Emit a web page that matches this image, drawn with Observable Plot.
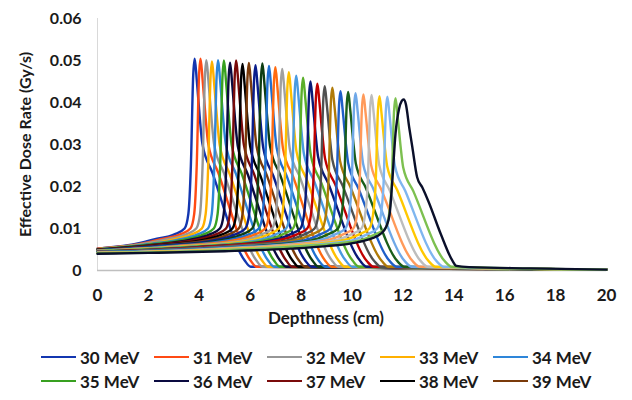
<!DOCTYPE html>
<html><head><meta charset="utf-8">
<script src="https://cdn.jsdelivr.net/npm/d3@7"></script>
<script src="https://cdn.jsdelivr.net/npm/@observablehq/plot@0.6"></script>
<style>
body{margin:0;background:#fff;font-family:Lato,"Open Sans",sans-serif;}
#wrap{width:632px;height:400px;position:relative;overflow:hidden;background:#fff;}
#chart{position:absolute;left:0;top:0;}
#xtitle{position:absolute;left:224px;width:204px;top:307px;line-height:22px;text-align:center;font-size:17px;font-weight:bold;color:#1a1a1a;}
#legend{position:absolute;left:41px;top:345px;width:580px;display:flex;flex-wrap:wrap;}
.item{width:113px;height:24px;display:flex;align-items:center;font-size:17px;font-weight:bold;color:#1a1a1a;}
.swatch{display:inline-block;width:35px;height:2.6px;margin-right:4px;}
</style></head><body>
<div id="wrap"><div id="chart"></div><div id="xtitle">Depthness (cm)</div><div id="legend"></div></div>
<script>
const energies = [30,31,32,33,34,35,36,37,38,39,40,41,42,43,44,45,46,47,48,49,50,51,52,53,54,55,56,57,58,59,60];
const colors = ["#1336B0","#FF4A14","#969696","#FFB000","#2E86D9","#38A020","#0A0A40","#7A0A0A","#000000","#7A3A0A",
  "#0A1E8C","#0E3D12","#1F6FD0","#FF6A10","#A0A0A0","#FFC000","#4A9BE0","#5AAE2A","#0A1A78","#C00000",
  "#505050","#B07A08","#1F5FC8","#1A5E1A","#6FA8E8","#FF9A5A","#BDBDBD","#FFC800","#7FB6F0","#7DC050","#0A0F2A"];
const legendLabels = ["30 MeV","31 MeV","32 MeV","33 MeV","34 MeV","35 MeV","36 MeV","37 MeV","38 MeV","39 MeV"];
const xTicks = [0,2,4,6,8,10,12,14,16,18,20];
const yTicks = [0,0.01,0.02,0.03,0.04,0.05,0.06];

// [depth (cm), effective dose rate (Gy/s)]
const mev30 = [[0,.0052],[1.72,.0066],[2.22,.0074],[3.02,.0086],[3.42,.0100],[3.57,.0135],[3.67,.0252],[3.76,.0464],[3.82,.0504],[3.90,.0454],[4.02,.0363],[4.12,.0302],[4.52,.0232],[5.77,.0025],[6.02,.0009],[20,.0002]];
const mev31 = [[0,.0052],[1.82,.0065],[2.45,.0074],[3.25,.0086],[3.65,.0100],[3.80,.0135],[3.90,.0252],[3.99,.0464],[4.05,.0504],[4.13,.0454],[4.25,.0363],[4.35,.0302],[4.75,.0232],[6.00,.0025],[6.25,.0009],[20,.0002]];
const mev32 = [[0,.0051],[1.93,.0065],[2.68,.0074],[3.48,.0086],[3.88,.0100],[4.03,.0135],[4.13,.0251],[4.22,.0461],[4.28,.0501],[4.36,.0451],[4.48,.0361],[4.58,.0301],[4.98,.0230],[6.23,.0025],[6.48,.0009],[20,.0002]];
const mev33 = [[0,.0051],[2.03,.0064],[2.90,.0073],[3.70,.0086],[4.10,.0100],[4.25,.0135],[4.35,.0249],[4.44,.0458],[4.50,.0498],[4.58,.0448],[4.70,.0359],[4.80,.0299],[5.20,.0229],[6.45,.0025],[6.70,.0009],[20,.0002]];
const mev34 = [[0,.0050],[2.13,.0064],[3.14,.0073],[3.94,.0086],[4.34,.0100],[4.49,.0135],[4.59,.0251],[4.68,.0461],[4.74,.0501],[4.82,.0451],[4.94,.0361],[5.04,.0301],[5.44,.0230],[6.69,.0025],[6.94,.0009],[20,.0002]];
const mev35 = [[0,.0050],[2.24,.0063],[3.37,.0073],[4.17,.0086],[4.57,.0100],[4.72,.0135],[4.82,.0250],[4.91,.0460],[4.97,.0500],[5.05,.0450],[5.17,.0360],[5.27,.0300],[5.67,.0230],[6.92,.0025],[7.17,.0009],[20,.0002]];
const mev36 = [[0,.0050],[2.34,.0062],[3.61,.0073],[4.41,.0086],[4.81,.0100],[4.96,.0135],[5.06,.0248],[5.15,.0455],[5.21,.0495],[5.29,.0446],[5.41,.0356],[5.51,.0297],[5.91,.0228],[7.16,.0025],[7.41,.0009],[20,.0002]];
const mev37 = [[0,.0049],[2.45,.0062],[3.85,.0073],[4.65,.0086],[5.05,.0100],[5.20,.0135],[5.30,.0250],[5.39,.0460],[5.45,.0500],[5.53,.0450],[5.65,.0360],[5.75,.0300],[6.15,.0230],[7.40,.0025],[7.65,.0009],[20,.0002]];
const mev38 = [[0,.0049],[2.57,.0061],[4.10,.0072],[4.90,.0086],[5.30,.0100],[5.45,.0135],[5.55,.0246],[5.64,.0453],[5.70,.0492],[5.78,.0443],[5.90,.0354],[6.00,.0295],[6.40,.0226],[7.65,.0025],[7.90,.0009],[20,.0002]];
const mev39 = [[0,.0049],[2.68,.0061],[4.35,.0072],[5.15,.0086],[5.55,.0100],[5.70,.0135],[5.80,.0247],[5.89,.0454],[5.95,.0494],[6.03,.0445],[6.15,.0356],[6.25,.0296],[6.65,.0227],[7.90,.0025],[8.15,.0009],[20,.0002]];
const mev40 = [[0,.0048],[2.79,.0060],[4.61,.0072],[5.41,.0086],[5.81,.0100],[5.96,.0135],[6.06,.0245],[6.15,.0450],[6.21,.0489],[6.29,.0440],[6.41,.0352],[6.51,.0293],[6.91,.0225],[8.16,.0024],[8.41,.0009],[20,.0002]];
const mev41 = [[0,.0048],[2.92,.0059],[4.88,.0072],[5.68,.0086],[6.08,.0100],[6.23,.0135],[6.33,.0247],[6.42,.0454],[6.48,.0493],[6.56,.0444],[6.68,.0355],[6.78,.0296],[7.18,.0227],[8.43,.0025],[8.68,.0009],[20,.0002]];
const mev42 = [[0,.0048],[3.03,.0059],[5.14,.0072],[5.94,.0086],[6.34,.0100],[6.49,.0135],[6.59,.0244],[6.68,.0448],[6.74,.0487],[6.82,.0438],[6.94,.0351],[7.04,.0292],[7.44,.0224],[8.69,.0024],[8.94,.0009],[20,.0002]];
const mev43 = [[0,.0047],[3.15,.0058],[5.39,.0072],[6.19,.0086],[6.59,.0100],[6.74,.0135],[6.84,.0242],[6.93,.0445],[6.99,.0484],[7.07,.0436],[7.19,.0348],[7.29,.0290],[7.69,.0223],[8.94,.0024],[9.19,.0009],[20,.0002]];
const mev44 = [[0,.0047],[3.27,.0058],[5.66,.0071],[6.46,.0086],[6.86,.0100],[7.01,.0135],[7.11,.0240],[7.20,.0442],[7.26,.0480],[7.34,.0432],[7.46,.0346],[7.56,.0288],[7.96,.0221],[9.21,.0024],[9.46,.0009],[20,.0002]];
const mev45 = [[0,.0046],[3.38,.0057],[5.92,.0071],[6.72,.0086],[7.12,.0100],[7.27,.0135],[7.37,.0236],[7.46,.0434],[7.52,.0472],[7.60,.0425],[7.72,.0340],[7.82,.0283],[8.22,.0217],[9.47,.0024],[9.72,.0009],[20,.0002]];
const mev46 = [[0,.0046],[3.51,.0056],[6.21,.0071],[7.01,.0086],[7.41,.0100],[7.56,.0135],[7.66,.0232],[7.75,.0427],[7.81,.0464],[7.89,.0418],[8.01,.0334],[8.11,.0278],[8.51,.0213],[9.76,.0023],[10.01,.0009],[20,.0002]];
const mev47 = [[0,.0046],[3.64,.0056],[6.48,.0071],[7.28,.0086],[7.68,.0100],[7.83,.0135],[7.93,.0230],[8.02,.0422],[8.08,.0459],[8.16,.0413],[8.28,.0330],[8.38,.0275],[8.78,.0211],[10.03,.0023],[10.28,.0009],[20,.0002]];
const mev48 = [[0,.0045],[3.77,.0055],[6.77,.0071],[7.57,.0086],[7.97,.0100],[8.12,.0135],[8.22,.0225],[8.31,.0414],[8.37,.0450],[8.45,.0405],[8.57,.0324],[8.67,.0270],[9.07,.0207],[10.32,.0023],[10.57,.0009],[20,.0002]];
const mev49 = [[0,.0045],[3.89,.0055],[7.04,.0071],[7.84,.0086],[8.24,.0100],[8.39,.0135],[8.49,.0223],[8.58,.0409],[8.64,.0445],[8.72,.0401],[8.84,.0320],[8.94,.0267],[9.34,.0205],[10.59,.0022],[10.84,.0009],[20,.0002]];
const mev50 = [[0,.0044],[4.02,.0054],[7.33,.0070],[8.13,.0086],[8.53,.0100],[8.68,.0135],[8.78,.0220],[8.87,.0404],[8.93,.0439],[9.01,.0395],[9.13,.0316],[9.23,.0263],[9.63,.0202],[10.88,.0022],[11.13,.0009],[20,.0002]];
const mev51 = [[0,.0044],[4.15,.0053],[7.63,.0070],[8.43,.0086],[8.83,.0100],[8.98,.0135],[9.08,.0218],[9.17,.0400],[9.23,.0435],[9.31,.0392],[9.43,.0313],[9.53,.0261],[9.93,.0200],[11.18,.0022],[11.43,.0009],[20,.0002]];
const mev52 = [[0,.0044],[4.30,.0053],[7.95,.0070],[8.75,.0086],[9.15,.0100],[9.30,.0135],[9.40,.0214],[9.49,.0393],[9.55,.0427],[9.63,.0384],[9.75,.0307],[9.85,.0256],[10.25,.0196],[11.50,.0021],[11.75,.0009],[20,.0002]];
const mev53 = [[0,.0043],[4.43,.0052],[8.25,.0070],[9.05,.0086],[9.45,.0100],[9.60,.0135],[9.70,.0213],[9.79,.0391],[9.85,.0425],[9.93,.0383],[10.05,.0306],[10.15,.0255],[10.55,.0196],[11.80,.0021],[12.05,.0009],[20,.0002]];
const mev54 = [[0,.0043],[4.56,.0052],[8.54,.0070],[9.34,.0086],[9.74,.0100],[9.89,.0135],[9.99,.0211],[10.08,.0388],[10.14,.0422],[10.22,.0380],[10.34,.0304],[10.44,.0253],[10.84,.0194],[12.09,.0021],[12.34,.0009],[20,.0002]];
const mev55 = [[0,.0042],[4.70,.0051],[8.85,.0070],[9.65,.0086],[10.05,.0100],[10.20,.0135],[10.30,.0210],[10.39,.0385],[10.45,.0419],[10.53,.0377],[10.65,.0302],[10.75,.0251],[11.15,.0193],[12.40,.0021],[12.65,.0009],[20,.0002]];
const mev56 = [[0,.0042],[4.85,.0050],[9.17,.0070],[9.97,.0086],[10.37,.0100],[10.52,.0135],[10.62,.0209],[10.71,.0385],[10.77,.0418],[10.85,.0376],[10.97,.0301],[11.07,.0251],[11.47,.0192],[12.72,.0021],[12.97,.0009],[20,.0002]];
const mev57 = [[0,.0042],[4.99,.0050],[9.48,.0070],[10.28,.0086],[10.68,.0100],[10.83,.0135],[10.93,.0208],[11.02,.0382],[11.08,.0415],[11.16,.0374],[11.28,.0299],[11.38,.0249],[11.78,.0191],[13.03,.0021],[13.28,.0009],[20,.0002]];
const mev58 = [[0,.0041],[5.13,.0049],[9.79,.0069],[10.59,.0086],[10.99,.0100],[11.14,.0135],[11.24,.0207],[11.33,.0381],[11.39,.0414],[11.47,.0373],[11.59,.0298],[11.69,.0248],[12.09,.0190],[13.34,.0021],[13.59,.0009],[20,.0002]];
const mev59 = [[0,.0041],[5.27,.0049],[10.11,.0069],[10.91,.0086],[11.31,.0100],[11.46,.0135],[11.56,.0205],[11.65,.0377],[11.71,.0410],[11.79,.0369],[11.91,.0295],[12.01,.0246],[12.41,.0189],[13.66,.0021],[13.91,.0009],[20,.0002]];
const mev60 = [[0,.0040],[2,.0042],[5,.0046],[7.6,.0052],[9,.0058],[10.2,.0067],[10.8,.0077],[11.12,.0087],[11.35,.0105],[11.48,.0135],[11.58,.0210],[11.71,.0326],[11.85,.0385],[11.95,.0403],[12.03,.0407],[12.12,.0395],[12.25,.0340],[12.37,.0294],[12.56,.0222],[12.76,.0198],[13.0,.0165],[13.5,.0085],[13.94,.0024],[14.1,.0011],[14.6,.0008],[17,.0005],[20,.0002]];

const curves = [mev30,mev31,mev32,mev33,mev34,mev35,mev36,mev37,mev38,mev39,mev40,mev41,mev42,mev43,mev44,mev45,
  mev46,mev47,mev48,mev49,mev50,mev51,mev52,mev53,mev54,mev55,mev56,mev57,mev58,mev59,mev60];

const labels = energies.map(e => e + " MeV");
const rows = curves.flatMap((c, i) => c.map(([depth, dose]) => ({energy: labels[i], depth, dose})));

const chart = Plot.plot({
  width: 632, height: 305,
  marginLeft: 97, marginRight: 26, marginTop: 18, marginBottom: 35,
  style: {fontFamily: "Lato, 'Open Sans', sans-serif", fontSize: "17px", fontWeight: "bold", color: "#1a1a1a", background: "white"},
  x: {domain: [0, 20]},
  y: {domain: [0, 0.06]},
  color: {domain: labels, range: colors},
  marks: [
    Plot.ruleX([0], {stroke: "#d9d9d9", strokeWidth: 1}),
    Plot.ruleY([0], {stroke: "#bfbfbf", strokeWidth: 1.5}),
    Plot.line(rows, {x: "depth", y: "dose", z: "energy", stroke: "energy", strokeWidth: 2.4, curve: "monotone-x"}),
    Plot.axisX({ticks: xTicks, tickSize: 0, tickPadding: 18, label: null}),
    Plot.axisY({ticks: yTicks, tickSize: 0, tickPadding: 16, tickFormat: d => d === 0 ? "0" : d.toFixed(2),
      label: "Effective Dose Rate (Gy/s)", labelAnchor: "center", labelOffset: 78, labelArrow: "none", fontSize: 16})
  ]
});
document.getElementById("chart").appendChild(chart);

const legend = d3.select("#legend");
legendLabels.forEach((t, i) => {
  const item = legend.append("div").attr("class", "item");
  item.append("span").attr("class", "swatch").style("background", colors[i]);
  item.append("span").text(t);
});
</script>
</body></html>
